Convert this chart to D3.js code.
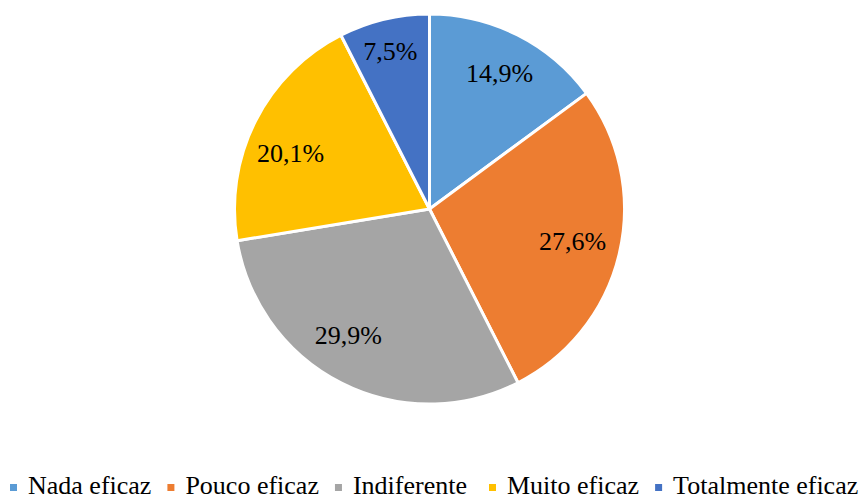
<!DOCTYPE html>
<html>
<head>
<meta charset="utf-8">
<script src="https://cdn.jsdelivr.net/npm/d3@7"></script>
<style>
  body { margin: 0; background: #fff; }
</style>
</head>
<body>
<div id="chart"></div>
<script>
// chart data
const categories = ["Nada eficaz", "Pouco eficaz", "Indiferente", "Muito eficaz", "Totalmente eficaz"];
const values = [14.9, 27.6, 29.9, 20.1, 7.5];
const colors = ["#5B9BD5", "#ED7D31", "#A5A5A5", "#FFC000", "#4472C4"];

const FONT = "Liberation Serif";
const width = 861, height = 498;
const cx = 429.5, cy = 209, radius = 195;

// small nudges so labels sit like the Excel "best fit" ones
const labelNudge = [[2, -1], [-4, -3], [-13, -9], [-4, 12], [-4, -11]];
// extra space after a legend entry (Excel keeps a trailing space on one of them)
const legendGap = [16, 16, 22, 16, 16];

const svg = d3.select("#chart").append("svg")
    .attr("width", width)
    .attr("height", height);

const pie = d3.pie().sort(null).value(d => d);
const arcs = pie(values);

const arc = d3.arc().innerRadius(0).outerRadius(radius);
const labelArc = d3.arc().innerRadius(radius * 0.775).outerRadius(radius * 0.775);

const g = svg.append("g").attr("transform", `translate(${cx},${cy})`);

g.selectAll("path")
    .data(arcs)
    .enter().append("path")
    .attr("d", arc)
    .attr("fill", (d, i) => colors[i])
    .attr("stroke", "#fff")
    .attr("stroke-width", 3)
    .attr("stroke-linejoin", "round");

g.selectAll("text.label")
    .data(arcs)
    .enter().append("text")
    .attr("class", "label")
    .attr("transform", (d, i) => {
        const c = labelArc.centroid(d);
        return `translate(${c[0] + labelNudge[i][0]},${c[1] + labelNudge[i][1]})`;
    })
    .attr("text-anchor", "middle")
    .attr("dy", "0.34em")
    .attr("font-family", FONT)
    .attr("font-size", 26)
    .attr("fill", "#000")
    .text(d => d.value.toFixed(1).replace(".", ",") + "%");

// legend
const legend = svg.append("g").attr("class", "legend");
const baseY = 494;
let x = 10;
categories.forEach((c, i) => {
    legend.append("rect")
        .attr("x", x).attr("y", 484)
        .attr("width", 7).attr("height", 7)
        .attr("fill", colors[i]);
    const t = legend.append("text")
        .attr("x", x + 18).attr("y", baseY)
        .attr("font-family", FONT)
        .attr("font-size", 26)
        .attr("fill", "#000")
        .text(c);
    x += 18 + t.node().getComputedTextLength() + legendGap[i];
});
</script>
</body>
</html>
